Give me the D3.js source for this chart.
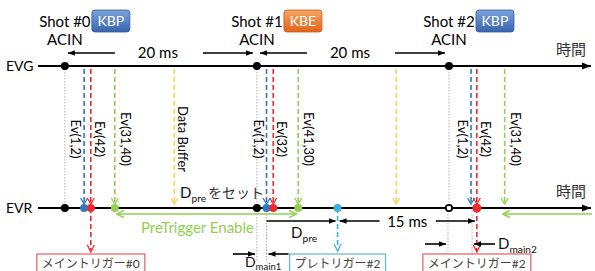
<!DOCTYPE html>
<html><head><meta charset="utf-8">
<script src="https://cdn.jsdelivr.net/npm/d3@7"></script>
<style>
body{margin:0;background:#fff}
svg{font-family:Lato,"Noto Sans CJK JP",sans-serif}
</style></head><body>
<div id="chart"></div>
<script>
// all times in ms, ACIN of shot #0 = 0
var shots = ['Shot #0', 'Shot #1', 'Shot #2'];
var shot_kind = ['KBP', 'KBE', 'KBP'];
var acin_ms = [0, 20, 40];
var ev_blue_ms = [2.0, 21.0, 42.3];
var ev_red_ms = [2.7, 21.7, 42.9];
var ev_green_ms = [5.2, 24.3, 45.8];
var buffer_ms = [11.4, 34.5];
var ev_blue_label = ['Ev(1,2)', 'Ev(1,2)', 'Ev(1,2)'];
var ev_red_label = ['Ev(42)', 'Ev(32)', 'Ev(42)'];
var ev_green_label = ['Ev(31,40)', 'Ev(41,30)', 'Ev(31,40)'];
var evr_dots = [['blue', 'red', 'green'], ['blue', 'red', 'green'], ['red']];
var pre_trigger_ms = 28.4;
var interval_label = ['20 ms', '20 ms'];
var pre_interval_label = '15 ms';
var trigger_box = [
    {ms: ev_red_ms[0], text: 'メイントリガー#0', color: 'red'},
    {ms: pre_trigger_ms, text: 'プレトリガー#2', color: 'cyan'},
    {ms: ev_red_ms[2], text: 'メイントリガー#2', color: 'red'}
];

var col = {blue: '#2f78c4', red: '#ee2a2f', green: '#92d050', yellow: '#fbd35a', cyan: '#3cb0e8'};
var box_col = {red: '#ec5a5e', cyan: '#5fb6dc'};

var W = 595, H = 271, y_evg = 66, y_evr = 208;
var x = d3.scaleLinear().domain([-2.8, 55]).range([38, 593]);

var svg = d3.select('#chart').append('svg').attr('width', W).attr('height', H);
var defs = svg.append('defs');

function make_marker(id, color, size, open) {
    var m = defs.append('marker').attr('id', id).attr('viewBox', '0 0 10 10')
        .attr('refX', open ? 9 : 10).attr('refY', 5).attr('markerWidth', size).attr('markerHeight', size)
        .attr('markerUnits', 'userSpaceOnUse').attr('orient', 'auto-start-reverse');
    if (open) m.append('path').attr('d', 'M1,1L9,5L1,9').attr('fill', 'none').attr('stroke', color).attr('stroke-width', 1.6);
    else m.append('path').attr('d', 'M0,1L10,5L0,9Z').attr('fill', color);
}
make_marker('ah_black', '#000', 7, false);
make_marker('ah_axis', '#000', 9, false);
make_marker('ah_green', col.green, 9, true);

function arrow(x1, x2, y, color, mk, both) {
    var l = svg.append('line').attr('x1', x1).attr('x2', x2).attr('y1', y).attr('y2', y)
        .attr('stroke', color).attr('stroke-width', 1.6).attr('marker-end', 'url(#' + mk + ')');
    if (both) l.attr('marker-start', 'url(#' + mk + ')');
    return l;
}
function dotted(xp, y1, y2) {
    svg.append('line').attr('x1', xp).attr('x2', xp).attr('y1', y1).attr('y2', y2)
        .attr('stroke', '#b0b0b0').attr('stroke-width', 1).attr('stroke-dasharray', '1.5,1.5');
}
function sub_text(xp, y, main, sub, size, anchor, dy) {
    var t = svg.append('text').attr('x', xp).attr('y', y).attr('font-size', size).attr('fill', '#111')
        .attr('text-anchor', anchor || 'start');
    t.append('tspan').text(main);
    t.append('tspan').attr('font-size', size * 0.68).attr('dy', dy || 4).text(sub);
    return t;
}

// gray guides
acin_ms.forEach(function (d) { dotted(x(d), y_evg, y_evr); });
dotted(x(acin_ms[1]), y_evr, 262); dotted(x(ev_blue_ms[1]), y_evr, 262);
dotted(x(acin_ms[2]) - 1, y_evr, 262); dotted(x(ev_blue_ms[2]) + 1, y_evr, 262);

// time axes
[y_evg, y_evr].forEach(function (y, i) {
    svg.append('line').attr('x1', 38).attr('x2', 591).attr('y1', y).attr('y2', y)
        .attr('stroke', '#000').attr('stroke-width', 2).attr('marker-end', 'url(#ah_axis)');
    svg.append('text').attr('x', 6).attr('y', y + 5).attr('font-size', 14).text(i ? 'EVR' : 'EVG');
    svg.append('text').attr('x', 556).attr('y', y - 11).attr('font-size', 15).attr('fill', '#333').text('時間');
});

// event dashed lines with open arrowheads
function event_line(ms, color) {
    var xp = x(ms), tip = y_evr - 4;
    svg.append('line').attr('x1', xp).attr('x2', xp).attr('y1', y_evg + 3).attr('y2', tip)
        .attr('stroke', color).attr('stroke-width', 1.6).attr('stroke-dasharray', '5,3');
    svg.append('path').attr('d', 'M' + (xp - 3.5) + ',' + (tip - 6) + 'L' + xp + ',' + tip + 'L' + (xp + 3.5) + ',' + (tip - 6))
        .attr('fill', 'none').attr('stroke', color).attr('stroke-width', 1.3);
}
function vlabel(xp, text) {
    svg.append('text').attr('transform', 'translate(' + xp + ',' + 139 + ') rotate(90)')
        .attr('text-anchor', 'middle').attr('dominant-baseline', 'central').attr('font-size', 13).text(text);
}
buffer_ms.forEach(function (d) { event_line(d, col.yellow); });
vlabel(x(buffer_ms[0]) + 9, 'Data Buffer');
shots.forEach(function (s, i) {
    event_line(ev_blue_ms[i], col.blue);
    event_line(ev_red_ms[i], col.red);
    event_line(ev_green_ms[i], col.green);
    vlabel(x(ev_blue_ms[i]) - 8, ev_blue_label[i]);
    vlabel(x(ev_red_ms[i]) + 9, ev_red_label[i]);
    vlabel(x(ev_green_ms[i]) + 11, ev_green_label[i]);
});

// shot headers
var grad = [['g_kbp', '#7aa3da', '#3a64ad'], ['g_kbe', '#f8a765', '#e0631a']];
grad.forEach(function (g) {
    var lg = defs.append('linearGradient').attr('id', g[0]).attr('x1', 0).attr('x2', 0).attr('y1', 0).attr('y2', 1);
    lg.append('stop').attr('offset', 0).attr('stop-color', g[1]);
    lg.append('stop').attr('offset', 1).attr('stop-color', g[2]);
});
shots.forEach(function (s, i) {
    var xa = x(acin_ms[i]);
    svg.append('text').attr('x', xa).attr('y', 27).attr('text-anchor', 'middle').attr('font-size', 15).text(s);
    svg.append('text').attr('x', xa).attr('y', 45).attr('text-anchor', 'middle').attr('font-size', 15).text('ACIN');
    svg.append('rect').attr('x', xa + 27).attr('y', 10).attr('width', 38).attr('height', 22).attr('rx', 3)
        .attr('fill', 'url(#' + (shot_kind[i] == 'KBE' ? 'g_kbe' : 'g_kbp') + ')')
        .attr('stroke', shot_kind[i] == 'KBE' ? '#c85a14' : '#33599a').attr('stroke-width', 0.8);
    svg.append('text').attr('x', xa + 46).attr('y', 26).attr('text-anchor', 'middle').attr('font-size', 14)
        .attr('fill', '#fff').text(shot_kind[i]);
});

// 20 ms intervals
interval_label.forEach(function (lab, i) {
    var a = x(acin_ms[i]), b = x(acin_ms[i + 1]);
    arrow(a + 50, a + 3, 53, '#000', 'ah_black');
    arrow(b - 54, b - 4, 53, '#000', 'ah_black');
    svg.append('text').attr('x', (a + b) / 2 - 3).attr('y', 58).attr('text-anchor', 'middle').attr('font-size', 15).text(lab);
});

// PreTrigger enable
arrow(x(ev_green_ms[0]) + 2, x(ev_green_ms[1]) - 2, 214, col.green, 'ah_green', true);
arrow(592, x(ev_green_ms[2]) - 2, 214, col.green, 'ah_green');
svg.append('text').attr('x', 141).attr('y', 233).attr('font-size', 15).attr('fill', col.green).text('PreTrigger Enable');

var dset = sub_text(180, 198, 'D', 'pre', 15);
dset.append('tspan').attr('dy', -4).attr('dx', 2).attr('font-size', 14).attr('fill', '#333').text('をセット');

// pre trigger line
var xp = x(pre_trigger_ms);
svg.append('line').attr('x1', xp).attr('x2', xp).attr('y1', y_evr).attr('y2', 248)
    .attr('stroke', col.cyan).attr('stroke-width', 1.6).attr('stroke-dasharray', '5,3');
svg.append('path').attr('d', 'M' + (xp - 3.5) + ',244L' + xp + ',251L' + (xp + 3.5) + ',244')
    .attr('fill', 'none').attr('stroke', col.cyan).attr('stroke-width', 1.3);
[0, 2].forEach(function (i) {
    var xr = x(ev_red_ms[i]);
    svg.append('line').attr('x1', xr).attr('x2', xr).attr('y1', y_evr).attr('y2', 250)
        .attr('stroke', col.red).attr('stroke-width', 1.6).attr('stroke-dasharray', '5,3');
    svg.append('path').attr('d', 'M' + (xr - 3.5) + ',' + 245 + 'L' + xr + ',252L' + (xr + 3.5) + ',245')
        .attr('fill', 'none').attr('stroke', col.red).attr('stroke-width', 1.3);
});

// D_pre and 15 ms
var xb1 = x(ev_blue_ms[1]), xr2 = x(ev_red_ms[2]);
arrow(xb1, xp - 2, 221, '#000', 'ah_black');
sub_text((xb1 + xp) / 2 - 11, 238, 'D', 'pre', 15);
arrow(xp + 42, xp + 2, 221, '#000', 'ah_black');
arrow(xr2 - 41, xr2 - 2, 221, '#000', 'ah_black');
svg.append('text').attr('x', (xp + xr2) / 2).attr('y', 227).attr('text-anchor', 'middle').attr('font-size', 15).text(pre_interval_label);

// D_main
var xa1 = x(acin_ms[1]), xa2 = x(acin_ms[2]), xb2 = x(ev_blue_ms[2]);
arrow(xa1 - 24, xa1 - 2, 254, '#000', 'ah_black');
arrow(xb1 + 22, xb1 + 2, 254, '#000', 'ah_black');
sub_text(xa1 - 12, 267, 'D', 'main1', 14, 'start', 3);
arrow(xa2 - 24, xa2 - 3, 244, '#000', 'ah_black');
arrow(xb2 + 24, xb2 + 3, 244, '#000', 'ah_black');
sub_text(xb2 + 27, 249, 'D', 'main2', 15);

// dots on EVR / EVG
shots.forEach(function (s, i) {
    svg.append('circle').attr('cx', x(acin_ms[i])).attr('cy', y_evg).attr('r', 4).attr('fill', '#000');
    svg.append('circle').attr('cx', x(acin_ms[i])).attr('cy', y_evr).attr('r', i == 2 ? 3.2 : 4)
        .attr('fill', i == 2 ? '#fff' : '#000').attr('stroke', '#000').attr('stroke-width', i == 2 ? 1.8 : 0);
    var ms = {blue: ev_blue_ms[i], red: ev_red_ms[i], green: ev_green_ms[i]};
    evr_dots[i].forEach(function (c) {
        svg.append('circle').attr('cx', x(ms[c])).attr('cy', y_evr).attr('r', c == 'red' && i == 2 ? 4.5 : 4).attr('fill', col[c]);
    });
});
svg.append('circle').attr('cx', xp).attr('cy', y_evr).attr('r', 4).attr('fill', col.cyan);

// trigger boxes
trigger_box.forEach(function (b) {
    var g = svg.append('g');
    var t = g.append('text').attr('x', x(b.ms)).attr('y', 268).attr('text-anchor', 'middle')
        .attr('font-size', 12).attr('fill', '#444').text(b.text);
    var bb = t.node().getBBox();
    g.insert('rect', 'text').attr('x', bb.x - 5).attr('y', 254).attr('width', bb.width + 10).attr('height', 30)
        .attr('fill', '#fff').attr('stroke', box_col[b.color]).attr('stroke-width', 1.2);
});
</script>
</body></html>
